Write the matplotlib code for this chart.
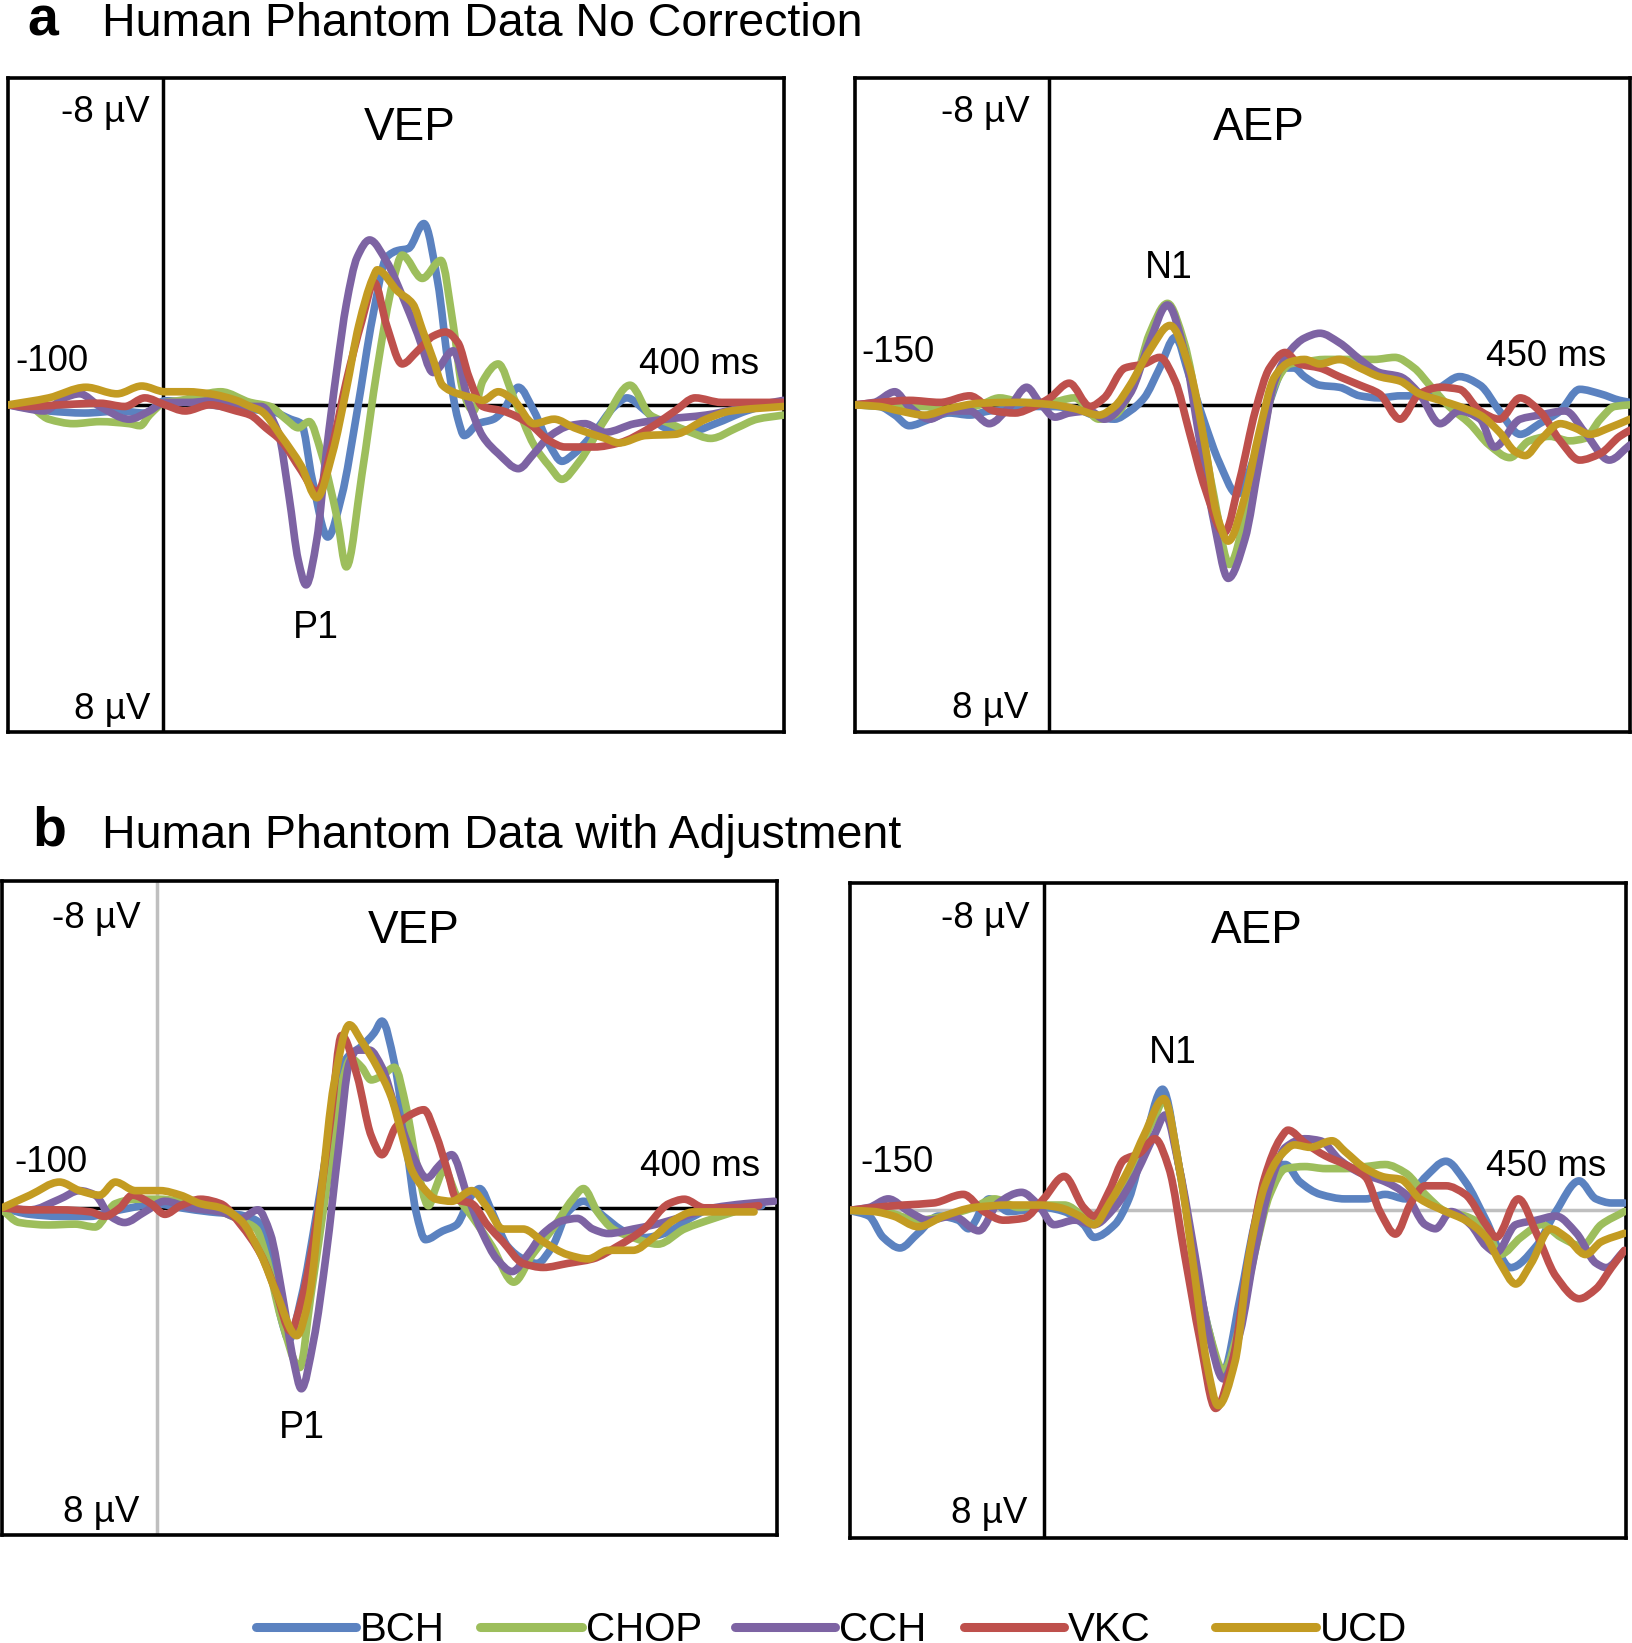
import numpy as np
import matplotlib
matplotlib.use("Agg")
import matplotlib.pyplot as plt
from matplotlib.path import Path
from matplotlib.patches import PathPatch
from matplotlib.lines import Line2D

plt.rcParams['font.family'] = ['Liberation Sans', 'DejaVu Sans']

# ---------------- data (ms, µV) ----------------
SITES = ["BCH", "CHOP", "CCH", "VKC", "UCD"]
COLORS = ["#5B82C0", "#9DBE5C", "#7D63A3", "#BE504C", "#C39B22"]

# panel a, VEP
A_VEP_BCH_T = [-100,-74,-51,-28,-12,1,30,50,69,82,89,96,106,115,125,135,144,151,158,168,177,184,190,194,203,213,219,229,239,249,257,265,278,291,299,311,324,343,356,376,400]
A_VEP_BCH_V = [0,0.15,0.2,0.15,0.2,-0.1,0,0.1,0.15,0.35,0.46,1.82,3.23,2.23,0.15,-2.15,-3.61,-3.77,-3.82,-4.43,-2.99,-0.9,0.35,0.75,0.46,0.35,0.15,-0.43,0.15,0.98,1.38,1.19,0.67,0.04,-0.17,0.15,0.56,0.62,0.46,0.15,-0.1]
A_VEP_CHOP_T = [-100,-87,-74,-58,-41,-22,-15,-9,1,11,37,56,69,79,87,94,102,112,118,128,138,148,154,167,179,187,193,200,206,216,226,239,249,257,268,285,301,314,327,340,353,370,383,400]
A_VEP_CHOP_V = [0,0.04,0.35,0.46,0.41,0.46,0.51,0.25,-0.06,-0.11,-0.32,-0.06,0.04,0.35,0.56,0.41,1.19,2.76,3.96,1.71,-0.9,-2.99,-3.66,-3.09,-3.53,-1.94,-0.38,0.15,-0.58,-1.0,-0.17,0.98,1.5,1.82,1.4,0.35,-0.48,0.25,0.46,0.67,0.82,0.56,0.35,0.25]
A_VEP_CCH_T = [-100,-87,-77,-64,-54,-41,-22,-9,1,17,34,50,63,74,81,87,92,99,105,112,118,125,133,144,154,164,174,187,197,206,216,229,239,249,262,272,285,304,324,350,370,400]
A_VEP_CCH_V = [0,0.1,0.15,-0.17,-0.27,0.04,0.35,0.15,-0.06,-0.06,-0.11,0.04,0.04,0.67,2.23,3.8,4.4,3.28,1.19,-0.9,-2.46,-3.61,-4.03,-3.5,-2.67,-1.73,-0.79,-1.32,-0.06,0.77,1.19,1.56,1.19,0.77,0.51,0.46,0.67,0.46,0.35,0.25,0.1,-0.11]
A_VEP_VKC_T = [-100,-87,-67,-41,-25,-12,1,14,30,47,56,66,76,89,99,109,118,128,136,144,154,164,174,182,190,197,206,219,236,249,259,278,294,314,330,343,360,400]
A_VEP_VKC_V = [0,0.04,0,-0.04,0.04,-0.17,0,0.15,0,0.15,0.25,0.56,0.88,1.61,2.13,0.98,-0.58,-2.05,-2.99,-1.94,-1.0,-1.32,-1.68,-1.78,-1.52,-0.69,0.04,0.15,0.46,0.88,1.03,1.03,0.93,0.56,0.15,-0.17,-0.06,-0.06]
A_VEP_UCD_T = [-100,-74,-50,-30,-14,1,16,30,47,56,63,76,89,99,109,118,126,135,138,151,161,167,174,180,190,200,206,216,226,239,252,265,285,294,311,330,350,366,400]
A_VEP_UCD_V = [0,-0.17,-0.43,-0.27,-0.46,-0.32,-0.32,-0.27,-0.11,0.04,0.15,0.77,1.5,2.27,1.19,-0.38,-1.94,-3.09,-3.3,-2.78,-2.46,-1.84,-1.11,-0.48,-0.27,-0.17,-0.11,-0.32,-0.11,0.46,0.35,0.56,0.82,0.93,0.75,0.72,0.35,0.15,0.04]

# panel a, AEP
A_AEP_BCH_T = [-150,-131,-119,-108,-92,-77,-61,-46,-26,-11,1,20,39,51,63,74,86,98,109,121,132,146,160,171,183,190,198,210,225,241,256,272,287,303,318,334,349,365,380,396,411,427,442,450]
A_AEP_BCH_V = [0,0.04,0.25,0.51,0.35,0.2,0.25,0.15,0.09,0.04,0.04,0.09,0.3,0.35,0.15,-0.17,-0.9,-1.65,-0.69,0.46,1.4,2.18,1.19,-0.06,-0.9,-0.9,-0.69,-0.48,-0.43,-0.22,-0.17,-0.22,-0.22,-0.43,-0.69,-0.48,0.15,0.72,0.46,0.15,-0.38,-0.27,-0.11,-0.06]
A_AEP_CHOP_T = [-150,-123,-96,-77,-53,-38,-19,1,20,39,51,67,78,92,105,117,128,140,152,163,175,187,198,214,233,252,268,283,295,310,326,341,357,372,388,403,415,427,438,450]
A_AEP_CHOP_V = [0,0.04,0.04,0.15,0,-0.17,-0.06,-0.06,-0.17,0.35,0.25,-0.58,-1.73,-2.48,-1.52,0.35,2.23,3.9,2.76,1.19,-0.48,-1.0,-1.05,-1.11,-1.11,-1.11,-1.16,-0.9,-0.48,0.04,0.46,0.98,1.29,0.88,0.77,0.88,0.82,0.35,0.04,0]
A_AEP_CCH_T = [-150,-135,-119,-108,-92,-77,-61,-46,-30,-17,-7,5,16,32,43,63,78,92,105,117,128,139,152,163,175,187,198,210,225,241,256,272,287,303,318,334,345,365,380,400,415,434,450]
A_AEP_CCH_V = [0,-0.06,-0.32,0.04,0.35,0.15,0.15,0.46,0.04,-0.43,-0.06,0.3,0.2,0.15,0.35,-0.27,-1.52,-2.44,-1.32,0.88,2.86,4.24,3.28,1.4,-0.58,-1.32,-1.63,-1.75,-1.52,-1.11,-0.79,-0.69,-0.27,0.46,0.15,0.35,1.03,0.35,0.25,0.15,0.67,1.35,0.98]
A_AEP_VKC_T = [-150,-131,-108,-84,-61,-42,-26,-11,1,16,32,43,59,74,86,98,109,121,136,148,160,171,183,194,210,225,241,256,272,287,303,318,334,349,365,380,396,411,427,442,450]
A_AEP_VKC_V = [0,-0.06,-0.11,-0.06,-0.22,0.15,0.2,0.04,-0.17,-0.53,0.04,-0.17,-0.9,-1.0,-1.16,-0.58,0.67,2.03,3.12,1.82,0.15,-0.9,-1.28,-1.0,-0.9,-0.69,-0.48,-0.27,0.35,-0.27,-0.43,-0.38,0.15,0.35,-0.17,0.15,0.88,1.35,1.19,0.77,0.62]
A_AEP_UCD_T = [-150,-131,-115,-96,-77,-53,-26,1,20,39,51,63,78,94,109,121,130,139,152,163,175,187,198,210,225,241,256,272,287,303,318,334,349,361,369,380,396,407,419,434,450]
A_AEP_UCD_V = [0,0.04,0.15,0.25,0.09,-0.04,-0.06,-0.01,0.09,0.25,0.04,-0.48,-1.32,-1.94,-0.9,0.98,2.65,3.33,2.23,0.67,-0.69,-1.05,-1.11,-1.0,-1.11,-0.9,-0.69,-0.58,-0.27,-0.11,0.04,0.25,0.67,1.14,1.24,0.88,0.46,0.56,0.72,0.56,0.35]

# panel b, VEP
B_VEP_BCH_T = [-100,-82,-63,-43,-30,-17,-1,15,34,51,64,73,80,85,93,103,112,122,132,140,145,153,161,167,173,184,193,203,208,216,226,236,245,255,265,275,288,301,314,327,346,359,372,390]
B_VEP_BCH_V = [0,0.16,0.21,0.21,0.1,0,-0.1,0,0.1,0.16,0.31,1.15,2.71,3.23,2.19,0.1,-1.98,-3.65,-3.96,-4.28,-4.57,-3.55,-1.46,0.1,0.78,0.57,0.42,-0.31,-0.47,0.1,0.94,1.25,1.36,0.94,0.1,-0.16,0.21,0.57,0.73,0.63,0.21,0,0,-0.05]
B_VEP_CHOP_T = [-100,-89,-70,-53,-40,-27,-14,2,21,38,54,64,70,80,92,99,109,119,125,132,138,145,153,161,167,175,180,185,193,203,216,230,242,255,268,275,284,294,307,323,340,359,372]
B_VEP_CHOP_V = [0.05,0.36,0.42,0.4,0.47,-0.1,-0.21,-0.21,-0.1,0.05,0.31,0.52,1.15,2.71,3.91,2.19,-0.42,-3.02,-3.65,-3.44,-3.13,-3.23,-3.44,-2.4,-1.15,-0.05,-0.52,-0.94,-0.31,0.21,0.94,1.82,1.15,0.52,-0.21,-0.47,0.1,0.52,0.73,0.89,0.52,0.26,0.1]
B_VEP_CCH_T = [-100,-82,-63,-50,-40,-30,-21,-8,5,21,41,54,65,73,81,88,93,101,109,117,124,129,137,145,154,164,174,182,190,200,210,219,229,239,249,262,271,281,291,307,320,340,359,379,398]
B_VEP_CCH_V = [0,0.05,-0.21,-0.42,-0.31,0.21,0.36,0.1,-0.16,0,0.1,0.26,0.05,0.63,2.19,3.75,4.43,3.23,1.15,-1.46,-3.55,-3.86,-3.86,-3.44,-2.4,-1.36,-0.73,-1.04,-1.3,-0.31,0.63,1.25,1.56,1.15,0.63,0.31,0.26,0.52,0.63,0.52,0.42,0.21,0,-0.1,-0.16]
B_VEP_VKC_T = [-100,-82,-63,-43,-34,-24,-16,-4,5,15,28,41,54,67,77,86,93,103,112,119,129,138,145,154,164,172,180,187,193,203,213,223,236,249,265,281,297,314,330,340,353,372,388]
B_VEP_VKC_V = [0,0.05,0.05,0.1,0.21,0,-0.31,-0.1,0.16,-0.05,-0.21,-0.1,0.42,1.15,2.09,3.02,2.29,0.31,-2.19,-4.22,-3.23,-1.77,-1.3,-1.98,-2.29,-2.4,-1.77,-0.94,-0.21,-0.1,0.42,0.83,1.36,1.46,1.36,1.25,0.94,0.52,-0.1,-0.21,0,0,-0.05]
B_VEP_UCD_T = [-100,-82,-63,-50,-37,-27,-14,2,15,28,41,54,67,77,90,98,106,114,124,132,142,151,158,164,171,180,190,203,213,223,236,249,265,278,291,307,320,333,346,366,385]
B_VEP_UCD_V = [0,-0.31,-0.63,-0.42,-0.31,-0.63,-0.42,-0.42,-0.31,-0.1,0,0.31,1.15,2.09,3.13,2.19,-0.42,-3.02,-4.48,-4.07,-3.44,-2.71,-1.77,-0.94,-0.52,-0.21,-0.16,-0.42,0,0.52,0.52,0.83,1.15,1.25,1.04,1.04,0.73,0.31,0.1,0.1,0.1]

# panel b, AEP
B_AEP_BCH_T = [-150,-135,-124,-111,-97,-81,-66,-58,-42,-27,-11,0,16,31,39,55,66,78,92,105,117,128,138,152,163,175,187,198,214,233,249,264,280,295,311,326,342,361,381,396,414,427,439,449]
B_AEP_BCH_V = [0,0.14,0.66,0.92,0.56,0.14,0.24,0.45,-0.28,0.03,-0.02,-0.07,0.03,0.35,0.66,0.35,-0.28,-1.65,-2.96,-1.02,1.29,2.97,4.0,2.13,0.35,-1.02,-1.12,-0.7,-0.39,-0.28,-0.28,-0.39,-0.28,-0.81,-1.2,-0.7,0.24,1.4,0.87,0.03,-0.72,-0.28,-0.18,-0.18]
B_AEP_CHOP_T = [-150,-124,-97,-77,-54,-38,-19,0,16,31,39,55,70,86,93,105,117,128,139,152,163,175,187,202,218,233,249,264,280,295,311,326,342,353,369,385,400,416,431,449]
B_AEP_CHOP_V = [0,0.03,0.24,0.14,-0.07,-0.28,-0.07,-0.13,-0.13,0.14,0.29,-0.18,-1.23,-2.28,-2.7,-1.02,1.29,2.97,3.91,2.76,1.08,-0.39,-1.02,-1.07,-1.02,-1.02,-1.07,-1.12,-0.91,-0.39,0.03,0.14,0.45,1.08,0.66,0.35,0.66,0.87,0.35,0.03]
B_AEP_CCH_T = [-150,-135,-120,-104,-89,-70,-50,-35,-17,-4,8,24,39,55,70,86,94,105,117,128,139,152,163,175,187,202,214,229,245,264,280,295,303,315,330,342,350,365,381,396,412,427,435,449]
B_AEP_CCH_V = [0,-0.07,-0.28,0.03,0.24,0.14,0.5,-0.18,-0.44,-0.13,0.35,0.24,0.35,-0.07,-0.81,-1.86,-2.33,-1.02,1.08,3.07,4.12,2.97,1.08,-0.6,-1.54,-1.75,-1.7,-1.23,-0.91,-0.7,-0.39,0.35,0.45,0.03,0.35,0.87,1.03,0.35,0.24,0.14,0.56,1.29,1.4,0.98]
B_AEP_VKC_T = [-150,-131,-108,-85,-62,-46,-31,-15,0,16,31,39,51,62,74,86,97,109,121,133,146,159,171,183,189,202,218,233,249,260,272,284,295,311,326,342,350,367,381,396,414,427,439,449]
B_AEP_VKC_V = [0,-0.07,-0.13,-0.18,-0.39,0.03,0.24,0.19,-0.28,-0.83,-0.07,0.14,-0.49,-1.23,-1.39,-1.75,-1.02,1.08,3.18,4.84,3.7,1.08,-0.81,-1.75,-1.96,-1.65,-1.33,-1.12,-0.81,0.03,0.58,-0.18,-0.6,-0.6,-0.39,0.35,0.66,-0.28,0.56,1.61,2.16,1.92,1.4,0.98]
B_AEP_UCD_T = [-150,-131,-116,-97,-77,-54,-27,-3,12,28,39,51,66,78,93,105,117,126,135,148,159,171,183,194,206,223,233,249,264,276,291,311,326,342,353,365,377,392,404,419,431,449]
B_AEP_UCD_V = [0,0.03,0.14,0.4,0.14,-0.07,-0.13,-0.13,-0.07,0.14,0.35,-0.18,-1.02,-1.86,-2.73,-1.02,1.61,3.7,4.77,3.7,1.08,-0.6,-1.33,-1.6,-1.54,-1.7,-1.44,-1.02,-0.81,-0.76,-0.28,0.03,0.24,0.66,1.29,1.8,1.29,0.45,0.66,1.08,0.77,0.56]

PANELS = {
    "a_vep": [(A_VEP_BCH_T, A_VEP_BCH_V), (A_VEP_CHOP_T, A_VEP_CHOP_V), (A_VEP_CCH_T, A_VEP_CCH_V),
              (A_VEP_VKC_T, A_VEP_VKC_V), (A_VEP_UCD_T, A_VEP_UCD_V)],
    "a_aep": [(A_AEP_BCH_T, A_AEP_BCH_V), (A_AEP_CHOP_T, A_AEP_CHOP_V), (A_AEP_CCH_T, A_AEP_CCH_V),
              (A_AEP_VKC_T, A_AEP_VKC_V), (A_AEP_UCD_T, A_AEP_UCD_V)],
    "b_vep": [(B_VEP_BCH_T, B_VEP_BCH_V), (B_VEP_CHOP_T, B_VEP_CHOP_V), (B_VEP_CCH_T, B_VEP_CCH_V),
              (B_VEP_VKC_T, B_VEP_VKC_V), (B_VEP_UCD_T, B_VEP_UCD_V)],
    "b_aep": [(B_AEP_BCH_T, B_AEP_BCH_V), (B_AEP_CHOP_T, B_AEP_CHOP_V), (B_AEP_CCH_T, B_AEP_CCH_V),
              (B_AEP_VKC_T, B_AEP_VKC_V), (B_AEP_UCD_T, B_AEP_UCD_V)],
}


# ---------------- smooth (Excel-like) line drawing ----------------
def pchip_slopes(x, y):
    x = np.asarray(x, float); y = np.asarray(y, float)
    h = np.diff(x); d = np.diff(y) / h
    n = len(x); m = np.zeros(n)
    for k in range(1, n - 1):
        if d[k - 1] * d[k] > 0:
            w1 = 2 * h[k] + h[k - 1]
            w2 = h[k] + 2 * h[k - 1]
            m[k] = (w1 + w2) / (w1 / d[k - 1] + w2 / d[k])
    m[0] = d[0]; m[-1] = d[-1]
    return m


def smooth_path(x, y):
    x = np.asarray(x, float); y = np.asarray(y, float)
    m = pchip_slopes(x, y)
    verts = [(x[0], y[0])]; codes = [Path.MOVETO]
    for i in range(len(x) - 1):
        h = x[i + 1] - x[i]
        verts += [(x[i] + h / 3, y[i] + m[i] * h / 3),
                  (x[i + 1] - h / 3, y[i + 1] - m[i + 1] * h / 3),
                  (x[i + 1], y[i + 1])]
        codes += [Path.CURVE4] * 3
    return Path(verts, codes)


W, H = 1632, 1643
fig = plt.figure(figsize=(W / 100, H / 100), dpi=100)


def rect(x0, y0, x1, y1):
    return [x0 / W, 1 - y1 / H, (x1 - x0) / W, (y1 - y0) / H]


def ftext(x, y, s, **kw):
    fig.text(x / W, 1 - y / H, s, **kw)


GRAY = "#BFBFBF"
specs = [
    ("a_vep", rect(8.4, 77.5, 783.5, 732.2), (-100, 400), "k", "k"),
    ("a_aep", rect(854.8, 77.5, 1630, 732.2), (-150, 450), "k", "k"),
    ("b_vep", rect(2.1, 881, 777.3, 1534.6), (-100, 400), GRAY, "k"),
    ("b_aep", rect(849.5, 883, 1625.7, 1537.7), (-150, 450), "k", GRAY),
]

for key, pos, xl, vcol, hcol in specs:
    ax = fig.add_axes(pos)
    ax.set_xlim(*xl)
    ax.set_ylim(8, -8)
    ax.set_xticks([]); ax.set_yticks([])
    for s in ax.spines.values():
        s.set_linewidth(2.6); s.set_color("black")
    ax.axvline(0, color=vcol, lw=2.5, zorder=1)
    ax.axhline(0, color=hcol, lw=2.5, zorder=1)
    for (t, v), c in zip(PANELS[key], COLORS):
        ax.add_patch(PathPatch(smooth_path(t, v), facecolor="none", edgecolor=c, lw=5.5,
                               capstyle="round", joinstyle="round", zorder=3))

SMALL = 26.5
BIG = 33
PK = 27
# panel a left
ftext(150, 122.5, "-8 µV", fontsize=SMALL, ha="right", va="baseline")
ftext(150, 718.6, "8 µV", fontsize=SMALL, ha="right", va="baseline")
ftext(15, 370.8, "-100", fontsize=SMALL, ha="left", va="baseline")
ftext(759, 374, "400 ms", fontsize=SMALL, ha="right", va="baseline")
ftext(410, 140.4, "VEP", fontsize=BIG, ha="center", va="baseline")
ftext(316, 638, "P1", fontsize=PK, ha="center", va="baseline")
# panel a right
ftext(1030, 121.5, "-8 µV", fontsize=SMALL, ha="right", va="baseline")
ftext(1028, 717.5, "8 µV", fontsize=SMALL, ha="right", va="baseline")
ftext(861, 362.4, "-150", fontsize=SMALL, ha="left", va="baseline")
ftext(1606, 365.6, "450 ms", fontsize=SMALL, ha="right", va="baseline")
ftext(1259, 140.4, "AEP", fontsize=BIG, ha="center", va="baseline")
ftext(1169, 277.6, "N1", fontsize=PK, ha="center", va="baseline")
# panel b left
ftext(141, 928, "-8 µV", fontsize=SMALL, ha="right", va="baseline")
ftext(139, 1522, "8 µV", fontsize=SMALL, ha="right", va="baseline")
ftext(14.7, 1172, "-100", fontsize=SMALL, ha="left", va="baseline")
ftext(760.5, 1176, "400 ms", fontsize=SMALL, ha="right", va="baseline")
ftext(413.8, 942.8, "VEP", fontsize=BIG, ha="center", va="baseline")
ftext(301.7, 1438, "P1", fontsize=PK, ha="center", va="baseline")
# panel b right
ftext(1029.7, 928, "-8 µV", fontsize=SMALL, ha="right", va="baseline")
ftext(1027.6, 1523, "8 µV", fontsize=SMALL, ha="right", va="baseline")
ftext(860, 1172, "-150", fontsize=SMALL, ha="left", va="baseline")
ftext(1605.8, 1176, "450 ms", fontsize=SMALL, ha="right", va="baseline")
ftext(1257, 942.8, "AEP", fontsize=BIG, ha="center", va="baseline")
ftext(1173, 1063, "N1", fontsize=PK, ha="center", va="baseline")

# titles
ftext(43, 35.6, "a", fontsize=40, fontweight="bold", ha="center", va="baseline")
ftext(101.6, 35.6, "Human Phantom Data No Correction", fontsize=33.5, ha="left", va="baseline")
ftext(49, 845, "b", fontsize=40, fontweight="bold", ha="center", va="baseline")
ftext(101.6, 848, "Human Phantom Data with Adjustment", fontsize=33.5, ha="left", va="baseline")

# legend
leg_x = [(255.6, 356), (480, 582), (735, 835), (964, 1064), (1215, 1316)]
leg_y = 1627
for (x0, x1), c, name in zip(leg_x, COLORS, SITES):
    fig.add_artist(Line2D([x0 / W, x1 / W], [1 - leg_y / H] * 2, transform=fig.transFigure,
                          color=c, lw=6.5, solid_capstyle="round"))
    fig.text((x1 + 4) / W, 1 - 1641 / H, name, fontsize=29,
             ha="left", va="baseline")

fig.savefig("out.png", dpi=100)
